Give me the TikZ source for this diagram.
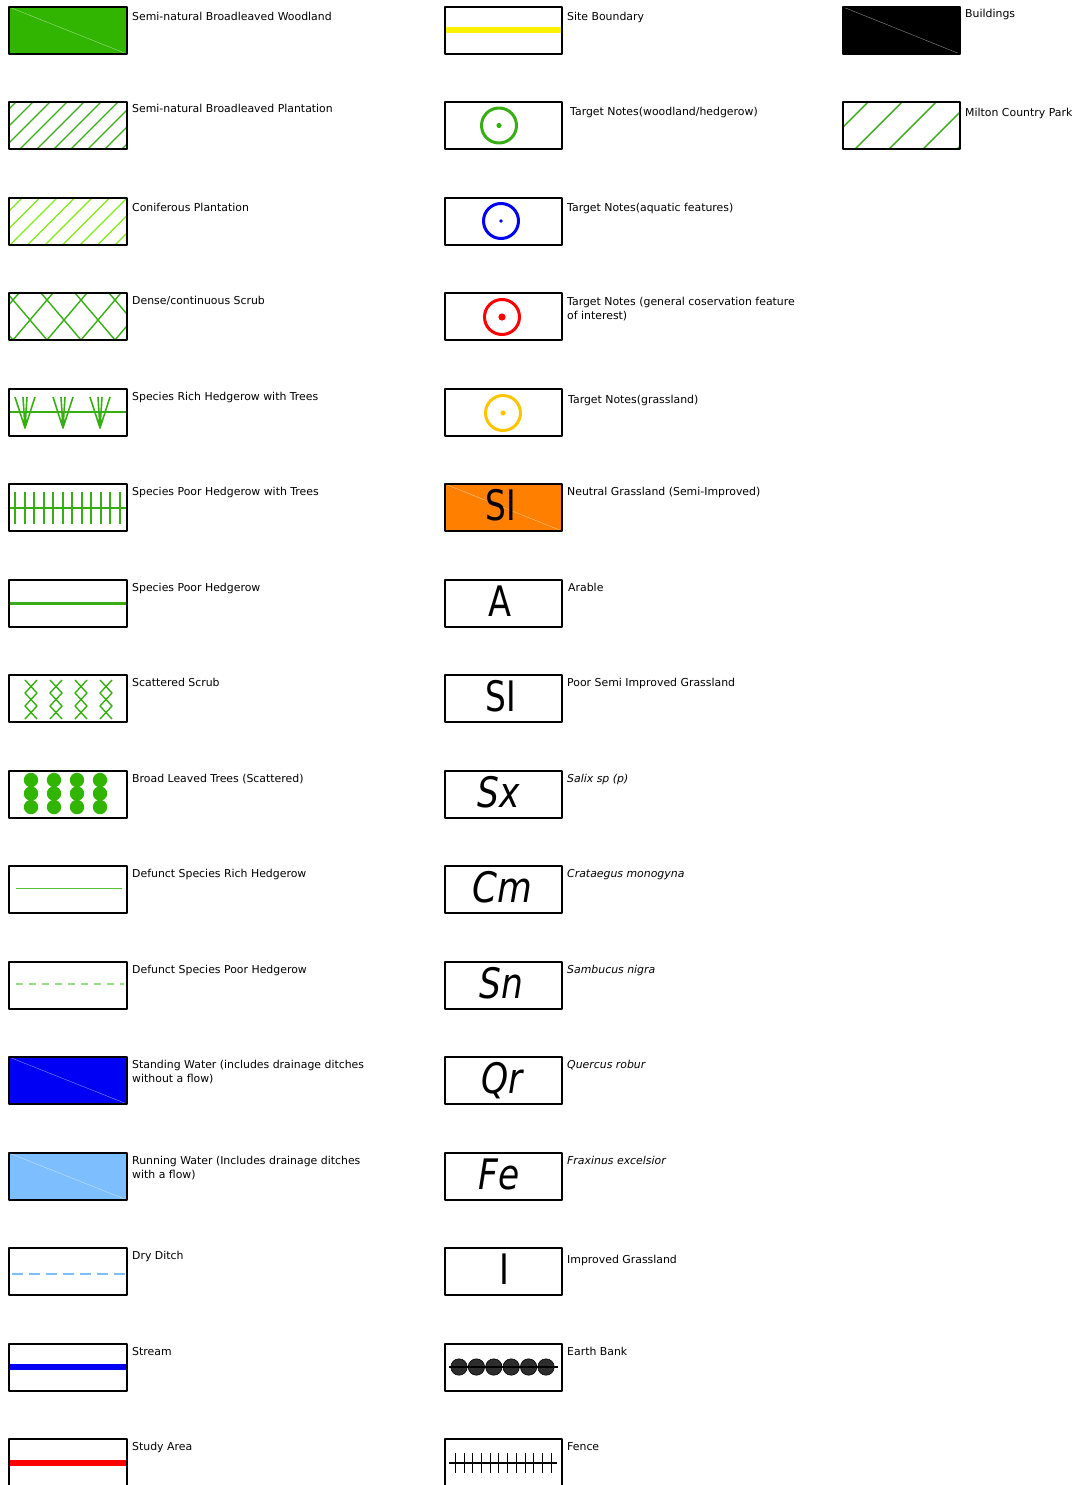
\documentclass[tikz,border=0pt]{standalone}
\usepackage{fontspec}
\setmainfont{DejaVu Sans}

\definecolor{woodgreen}{RGB}{49,181,0}
\definecolor{hatchgreen}{RGB}{55,175,20}
\definecolor{limegreen}{RGB}{130,235,20}
\definecolor{paledash}{RGB}{150,220,130}
\definecolor{thingreen}{RGB}{85,195,45}
\definecolor{waterblue}{RGB}{0,0,245}
\definecolor{runblue}{RGB}{125,190,255}
\definecolor{grassorange}{RGB}{255,128,0}
\definecolor{goldnote}{RGB}{255,195,0}
\definecolor{bankgrey}{RGB}{45,45,45}

\tikzset{
  keybox/.style={draw=black,line width=1.6pt},
  keylabel/.style={anchor=base west,inner sep=0pt,align=left,
    font=\fontsize{10.9}{14}\selectfont},
  bigsym/.style={anchor=base,inner sep=0pt,font=\fontsize{42}{42}\selectfont},
  faintdiag/.style={line width=0.4pt},
  notering/.style={line width=3pt},
}

\begin{document}
\begin{tikzpicture}[x=1pt,y=-1pt,line cap=butt,line join=round]
        \useasboundingbox (0,0) rectangle (1077,1485);

        % ---- left column ----
        % Semi-natural broadleaved woodland
        \fill[woodgreen] (9,7) rectangle (127,54);
        \draw[faintdiag,woodgreen!45!white] (9,7) -- (127,54);
        \draw[keybox] (9,7) rectangle (127,54);
        \node[keylabel] (woodland) at (132,21) {Semi-natural Broadleaved Woodland};

        % Semi-natural broadleaved plantation
        \begin{scope}
          \clip (9,102) rectangle (127,149);
          \foreach \k in {-3,...,7}
            \draw[hatchgreen,line width=1.4pt] ({20+17*\k},149) -- ++(47,-47);
        \end{scope}
        \draw[keybox] (9,102) rectangle (127,149);
        \node[keylabel] (plantation) at (132,113) {Semi-natural Broadleaved Plantation};

        % Coniferous plantation
        \begin{scope}
          \clip (9,198) rectangle (127,245);
          \foreach \k in {-3,...,7}
            \draw[limegreen,line width=1.4pt] ({10+17.5*\k},245) -- ++(47,-47);
        \end{scope}
        \draw[keybox] (9,198) rectangle (127,245);
        \node[keylabel] (conifer) at (132,211) {Coniferous Plantation};

        % Dense/continuous scrub
        \begin{scope}
          \clip (9,293) rectangle (127,340);
          \foreach \k in {-2,...,5} {
            \draw[hatchgreen,line width=1.4pt] ({13+34*\k},340) -- ++(51,-60);
            \draw[hatchgreen,line width=1.4pt] ({13+34*\k},340) -- ++(-51,-60);
          }
        \end{scope}
        \draw[keybox] (9,293) rectangle (127,340);
        \node[keylabel] (densescrub) at (132,304) {Dense/continuous Scrub};

        % Species rich hedgerow with trees
        \draw[hatchgreen,line width=1.3pt] (9,412) -- (127,412);
        \foreach \tx in {25,63,100} {
          \draw[hatchgreen,line width=1.6pt]
            (\tx-10,397) -- (\tx,428) -- (\tx+10,397)
            (\tx-2,397) -- (\tx,428) -- (\tx+2,397);
        }
        \draw[keybox] (9,389) rectangle (127,436);
        \node[keylabel] (richtrees) at (132,400) {Species Rich Hedgerow with Trees};

        % Species poor hedgerow with trees
        \draw[hatchgreen,line width=1.3pt] (9,508) -- (127,508);
        \foreach \k in {0,...,11}
          \draw[hatchgreen,line width=2pt] ({round(15+9.5*\k)},492) -- ++(0,32);
        \draw[keybox] (9,484) rectangle (127,531);
        \node[keylabel] (poortrees) at (132,495) {Species Poor Hedgerow with Trees};

        % Species poor hedgerow
        \draw[hatchgreen,line width=3pt] (9,603.5) -- (127,603.5);
        \draw[keybox] (9,580) rectangle (127,627);
        \node[keylabel] (poorhedge) at (132,591) {Species Poor Hedgerow};

        % Scattered scrub
        \foreach \sx in {31,56,81,106} {
          \draw[hatchgreen,line width=1.4pt]
            (\sx-6,680) -- (\sx+6,693) -- (\sx-6,706) -- (\sx+6,719)
            (\sx+6,680) -- (\sx-6,693) -- (\sx+6,706) -- (\sx-6,719);
        }
        \draw[keybox] (9,675) rectangle (127,722);
        \node[keylabel] (scatscrub) at (132,686) {Scattered Scrub};

        % Broad leaved trees (scattered)
        \foreach \cx in {31,54,77,100}
          \foreach \cy in {780,793.5,807}
            \fill[woodgreen] (\cx,\cy) circle (7.2);
        \draw[keybox] (9,771) rectangle (127,818);
        \node[keylabel] (broadtrees) at (132,782) {Broad Leaved Trees (Scattered)};

        % Defunct species rich hedgerow
        \draw[thingreen,line width=0.9pt] (16,888.5) -- (122,888.5);
        \draw[keybox] (9,866) rectangle (127,913);
        \node[keylabel] (defrich) at (132,877) {Defunct Species Rich Hedgerow};

        % Defunct species poor hedgerow
        \draw[paledash,line width=1.1pt,dash pattern=on 7pt off 6pt] (16,984) -- (124,984);
        \draw[keybox] (9,962) rectangle (127,1009);
        \node[keylabel] (defpoor) at (132,973) {Defunct Species Poor Hedgerow};

        % Standing water (two lines: base sits on the last line)
        \fill[waterblue] (9,1057) rectangle (127,1104);
        \draw[faintdiag,waterblue!45!white] (9,1057) -- (127,1104);
        \draw[keybox] (9,1057) rectangle (127,1104);
        \node[keylabel] (standing) at (132,1082) {Standing Water (includes drainage ditches\\without a flow)};

        % Running water
        \fill[runblue] (9,1153) rectangle (127,1200);
        \draw[faintdiag,runblue!45!white] (9,1153) -- (127,1200);
        \draw[keybox] (9,1153) rectangle (127,1200);
        \node[keylabel] (running) at (132,1178) {Running Water (Includes drainage ditches\\with a flow)};

        % Dry ditch
        \draw[runblue,line width=1.6pt,dash pattern=on 11pt off 6pt] (12,1274) -- (125,1274);
        \draw[keybox] (9,1248) rectangle (127,1295);
        \node[keylabel] (dryditch) at (132,1259) {Dry Ditch};

        % Stream
        \draw[waterblue,line width=6pt] (9,1367) -- (127,1367);
        \draw[keybox] (9,1344) rectangle (127,1391);
        \node[keylabel] (stream) at (132,1355) {Stream};

        % Study area
        \draw[red,line width=6pt] (9,1463) -- (127,1463);
        \draw[keybox] (9,1439) rectangle (127,1490);
        \node[keylabel] (study) at (132,1450) {Study Area};

        % ---- middle column ----
        % Site boundary
        \draw[yellow,line width=6pt] (445,30) -- (562,30);
        \draw[keybox] (445,7) rectangle (562,54);
        \node[keylabel] (siteline) at (567,21) {Site Boundary};

        % Target notes
        \draw[hatchgreen,notering] (499,125.5) circle (17.5);
        \fill[hatchgreen] (499,125.5) circle (2.6);
        \draw[keybox] (445,102) rectangle (562,149);
        \node[keylabel] (tnwood) at (570,116) {Target Notes(woodland/hedgerow)};

        \draw[waterblue,notering] (501,221) circle (17.5);
        \fill[waterblue] (501,221) circle (1.8);
        \draw[keybox] (445,198) rectangle (562,245);
        \node[keylabel] (tnaqua) at (567,211) {Target Notes(aquatic features)};

        \draw[red,notering] (502,317) circle (17.5);
        \fill[red] (502,317) circle (3.6);
        \draw[keybox] (445,293) rectangle (562,340);
        \node[keylabel] (tngeneral) at (567,319) {Target Notes (general coservation feature\\of interest)};

        \draw[goldnote,notering] (503,413) circle (17.5);
        \fill[goldnote] (503,413) circle (2.6);
        \draw[keybox] (445,389) rectangle (562,436);
        \node[keylabel] (tngrass) at (568,403) {Target Notes(grassland)};

        % Grassland and species codes
        \fill[grassorange] (445,484) rectangle (562,531);
        \draw[faintdiag,grassorange!45!white] (445,484) -- (562,531);
        \node[bigsym] (codesi) at (501,520) {\scalebox{0.78}[1]{SI}};
        \draw[keybox] (445,484) rectangle (562,531);
        \node[keylabel] (neutral) at (567,495) {Neutral Grassland (Semi-Improved)};

        \node[bigsym] (codea) at (500,616) {\scalebox{0.8}[1]{A}};
        \draw[keybox] (445,580) rectangle (562,627);
        \node[keylabel] (arable) at (568,591) {Arable};

        \node[bigsym] (codepsi) at (501,711) {\scalebox{0.78}[1]{SI}};
        \draw[keybox] (445,675) rectangle (562,722);
        \node[keylabel] (poorsemi) at (567,686) {Poor Semi Improved Grassland};

        \node[bigsym] (codesx) at (499,807) {\scalebox{0.82}[1]{\itshape Sx}};
        \draw[keybox] (445,771) rectangle (562,818);
        \node[keylabel] (salix) at (567,782) {\itshape Salix sp (p)};

        \node[bigsym] (codecm) at (502,902) {\scalebox{0.85}[1]{\itshape Cm}};
        \draw[keybox] (445,866) rectangle (562,913);
        \node[keylabel] (crataegus) at (567,877) {\itshape Crataegus monogyna};

        \node[bigsym] (codesn) at (501,998) {\scalebox{0.82}[1]{\itshape Sn}};
        \draw[keybox] (445,962) rectangle (562,1009);
        \node[keylabel] (sambucus) at (567,973) {\itshape Sambucus nigra};

        \node[bigsym] (codeqr) at (502,1093) {\scalebox{0.82}[1]{\itshape Qr}};
        \draw[keybox] (445,1057) rectangle (562,1104);
        \node[keylabel] (quercus) at (567,1068) {\itshape Quercus robur};

        \node[bigsym] (codefe) at (499,1189) {\scalebox{0.82}[1]{\itshape Fe}};
        \draw[keybox] (445,1153) rectangle (562,1200);
        \node[keylabel] (fraxinus) at (567,1164) {\itshape Fraxinus excelsior};

        \node[bigsym] (codei) at (504,1284) {\scalebox{0.8}[1]{I}};
        \draw[keybox] (445,1248) rectangle (562,1295);
        \node[keylabel] (improved) at (567,1263) {Improved Grassland};

        % Earth bank
        \foreach \k in {0,...,5}
          \filldraw[fill=bankgrey,draw=black,line width=0.6pt] ({459+17.4*\k},1367) circle (8.2);
        \draw[black,line width=1.2pt] (449,1367) -- (558,1367);
        \draw[keybox] (445,1344) rectangle (562,1391);
        \node[keylabel] (earthbank) at (567,1355) {Earth Bank};

        % Fence
        \draw[black,line width=1.3pt] (449,1463) -- (557,1463);
        \foreach \k in {0,...,11}
          \draw[black,line width=1.5pt] ({round(455+8.7*\k)+0.5},1453) -- ++(0,20);
        \draw[keybox] (445,1439) rectangle (562,1490);
        \node[keylabel] (fence) at (567,1450) {Fence};

        % ---- right column ----
        % Buildings
        \fill[black] (843,7) rectangle (960,54);
        \draw[faintdiag,black!45!white] (843,7) -- (960,54);
        \draw[keybox] (843,7) rectangle (960,54);
        \node[keylabel] (buildings) at (965,18) {Buildings};

        % Milton Country Park
        \begin{scope}
          \clip (843,102) rectangle (960,149);
          \foreach \k in {-2,...,4}
            \draw[hatchgreen,line width=1.4pt] ({855+34*\k},149) -- ++(47,-47);
        \end{scope}
        \draw[keybox] (843,102) rectangle (960,149);
        \node[keylabel] (milton) at (965,117) {Milton Country Park};
    \end{tikzpicture}
\end{document}
